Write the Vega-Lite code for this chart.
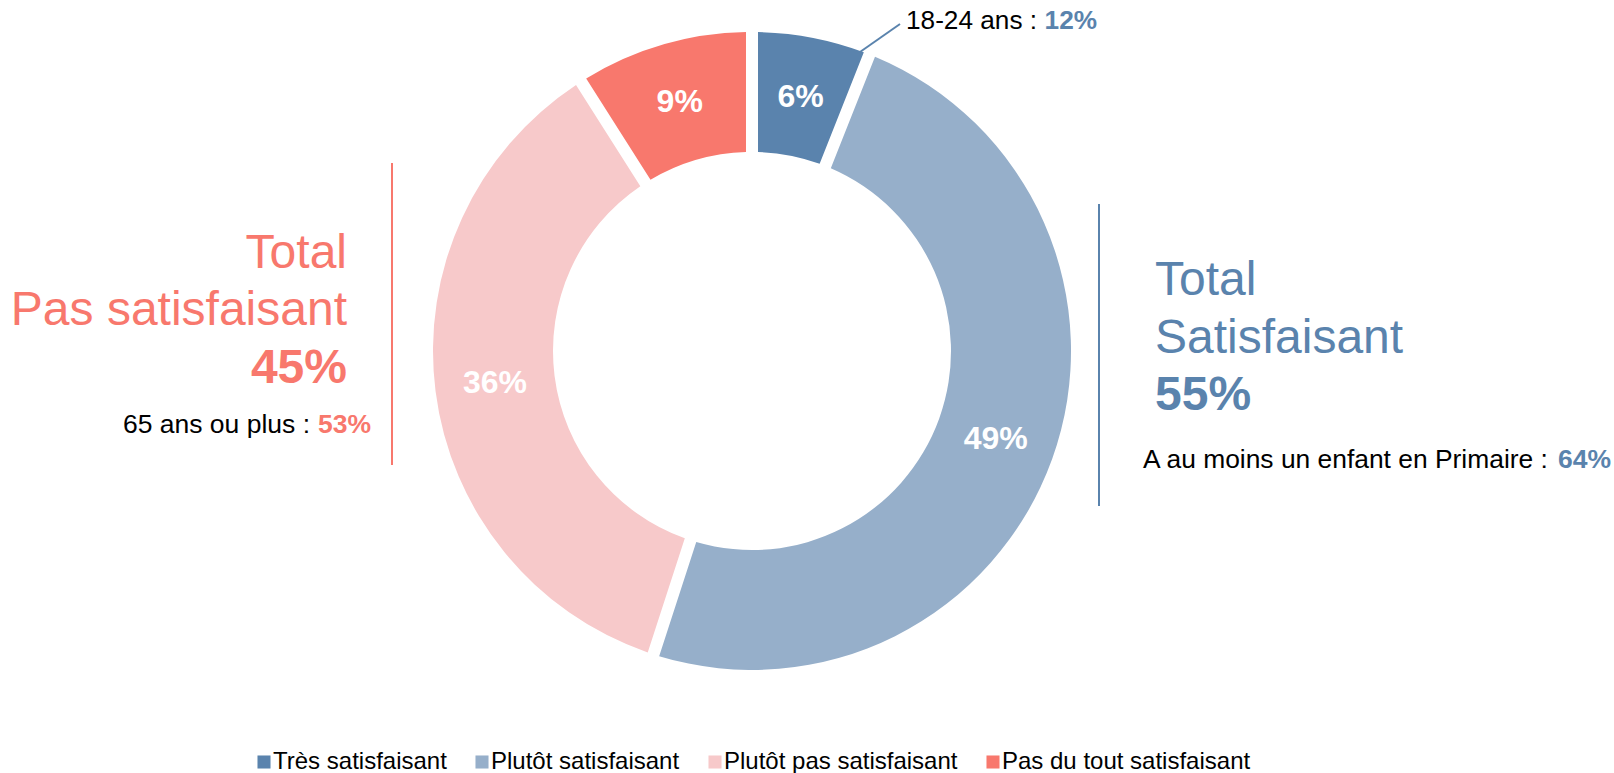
{
  "$schema": "https://vega.github.io/schema/vega-lite/v6.json",
  "width": 1614,
  "height": 773,
  "autosize": {"type": "none"},
  "padding": 0,
  "background": "white",
  "config": {
    "view": {"stroke": null},
    "font": "Liberation Sans",
    "text": {"font": "Liberation Sans", "baseline": "alphabetic"}
  },
  "layer": [
    {
      "data": {"values": [
        {"reponse": "Très satisfaisant", "part": 0.06, "ordre": 1},
        {"reponse": "Plutôt satisfaisant", "part": 0.49, "ordre": 2},
        {"reponse": "Plutôt pas satisfaisant", "part": 0.36, "ordre": 3},
        {"reponse": "Pas du tout satisfaisant", "part": 0.09, "ordre": 4}
      ]},
      "encoding": {
        "theta": {"field": "part", "type": "quantitative", "stack": true},
        "order": {"field": "ordre", "type": "quantitative"},
        "x": {"datum": 752, "type": "quantitative", "scale": {"domain": [0, 1614], "nice": false, "zero": false}, "axis": null},
        "y": {"datum": 351, "type": "quantitative", "scale": {"domain": [0, 773], "nice": false, "zero": false, "reverse": true}, "axis": null}
      },
      "layer": [
        {
          "mark": {"type": "arc", "innerRadius": 199, "outerRadius": 319, "padAngle": 0.032},
          "encoding": {
            "color": {
              "field": "reponse", "type": "nominal",
              "scale": {
                "domain": ["Très satisfaisant", "Plutôt satisfaisant", "Plutôt pas satisfaisant", "Pas du tout satisfaisant"],
                "range": ["#5A83AD", "#96AFCA", "#F7C9CA", "#F8786D"]
              },
              "legend": {
                "orient": "none", "legendX": 252, "legendY": 750, "direction": "horizontal",
                "title": null, "symbolType": "square", "symbolSize": 170, "symbolStrokeWidth": 0,
                "labelFontSize": 24, "labelFont": "Liberation Sans", "labelColor": "#000000",
                "labelOffset": -3, "columnPadding": 23, "labelLimit": 400
              }
            }
          }
        },
        {
          "mark": {"type": "text", "radius": 259, "fontSize": 32, "fontWeight": "bold", "fill": "white", "align": "center", "baseline": "middle"},
          "encoding": {
            "detail": {"field": "reponse", "type": "nominal"},
            "text": {"field": "part", "type": "quantitative", "format": ".0%"}
          }
        }
      ]
    },
    {
      "data": {"values": [{"t": "Total"}]},
      "mark": {"type": "text", "align": "left", "fontSize": 48, "fill": "#5A83AD"},
      "encoding": {"text": {"field": "t"}, "x": {"datum": 1155}, "y": {"datum": 295}}
    },
    {
      "data": {"values": [{"t": "Satisfaisant"}]},
      "mark": {"type": "text", "align": "left", "fontSize": 48, "fill": "#5A83AD"},
      "encoding": {"text": {"field": "t"}, "x": {"datum": 1155}, "y": {"datum": 353}}
    },
    {
      "data": {"values": [{"t": "55%"}]},
      "mark": {"type": "text", "align": "left", "fontSize": 48, "fontWeight": "bold", "fill": "#5A83AD"},
      "encoding": {"text": {"field": "t"}, "x": {"datum": 1155}, "y": {"datum": 410}}
    },
    {
      "data": {"values": [{"t": "A au moins un enfant en Primaire :"}]},
      "mark": {"type": "text", "align": "left", "fontSize": 26.4, "fill": "#000000"},
      "encoding": {"text": {"field": "t"}, "x": {"datum": 1143}, "y": {"datum": 468}}
    },
    {
      "data": {"values": [{"t": "64%"}]},
      "mark": {"type": "text", "align": "right", "fontSize": 26.5, "fontWeight": "bold", "fill": "#5A83AD"},
      "encoding": {"text": {"field": "t"}, "x": {"datum": 1611}, "y": {"datum": 468}}
    },
    {
      "data": {"values": [{"t": "Total"}]},
      "mark": {"type": "text", "align": "right", "fontSize": 48, "fill": "#F8786D"},
      "encoding": {"text": {"field": "t"}, "x": {"datum": 347}, "y": {"datum": 268}}
    },
    {
      "data": {"values": [{"t": "Pas satisfaisant"}]},
      "mark": {"type": "text", "align": "right", "fontSize": 48, "fill": "#F8786D"},
      "encoding": {"text": {"field": "t"}, "x": {"datum": 347}, "y": {"datum": 325}}
    },
    {
      "data": {"values": [{"t": "45%"}]},
      "mark": {"type": "text", "align": "right", "fontSize": 48, "fontWeight": "bold", "fill": "#F8786D"},
      "encoding": {"text": {"field": "t"}, "x": {"datum": 347}, "y": {"datum": 383}}
    },
    {
      "data": {"values": [{"t": "65 ans ou plus :"}]},
      "mark": {"type": "text", "align": "right", "fontSize": 26.5, "fill": "#000000"},
      "encoding": {"text": {"field": "t"}, "x": {"datum": 310}, "y": {"datum": 433}}
    },
    {
      "data": {"values": [{"t": "53%"}]},
      "mark": {"type": "text", "align": "right", "fontSize": 26.5, "fontWeight": "bold", "fill": "#F8786D"},
      "encoding": {"text": {"field": "t"}, "x": {"datum": 371}, "y": {"datum": 433}}
    },
    {
      "data": {"values": [{"t": "18-24 ans :"}]},
      "mark": {"type": "text", "align": "left", "fontSize": 26.2, "fill": "#000000"},
      "encoding": {"text": {"field": "t"}, "x": {"datum": 906}, "y": {"datum": 29}}
    },
    {
      "data": {"values": [{"t": "12%"}]},
      "mark": {"type": "text", "align": "right", "fontSize": 26.2, "fontWeight": "bold", "fill": "#5A83AD"},
      "encoding": {"text": {"field": "t"}, "x": {"datum": 1097}, "y": {"datum": 29}}
    },
    {
      "data": {"values": [{}]},
      "mark": {"type": "rule", "stroke": "#5A83AD", "strokeWidth": 2},
      "encoding": {"x": {"datum": 1099}, "y": {"datum": 204}, "y2": {"datum": 506}}
    },
    {
      "data": {"values": [{}]},
      "mark": {"type": "rule", "stroke": "#F8786D", "strokeWidth": 2},
      "encoding": {"x": {"datum": 392}, "y": {"datum": 163}, "y2": {"datum": 465}}
    },
    {
      "data": {"values": [{}]},
      "mark": {"type": "rule", "stroke": "#5A83AD", "strokeWidth": 2},
      "encoding": {"x": {"datum": 860}, "y": {"datum": 52}, "x2": {"datum": 900}, "y2": {"datum": 24}}
    }
  ]
}
